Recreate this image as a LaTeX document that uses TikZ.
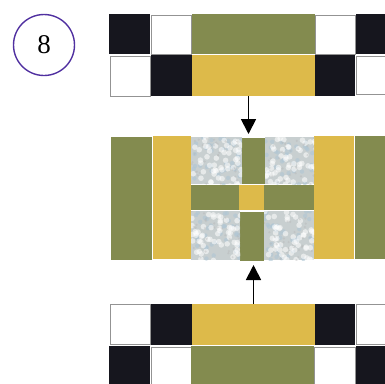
\documentclass[tikz,border=0pt]{standalone}
\usepackage{fontspec}
\setmainfont{Liberation Serif}
\usetikzlibrary{arrows.meta,fit}
\definecolor{leaf}{HTML}{838B4F}
\definecolor{mustard}{HTML}{DDBA4A}
\definecolor{ink}{HTML}{16161E}
\definecolor{ring}{HTML}{5030A0}
\definecolor{frost}{HTML}{C8CFD0}
\definecolor{frostblue}{HTML}{AFC6D4}
\tikzset{
  tile/.style={inner sep=0pt, outer sep=0pt},
  inkbox/.style={tile, fill=ink},
  paperbox/.style={tile, fill=white, draw=gray!85, line width=0.8pt},
  leafbox/.style={tile, fill=leaf},
  goldbox/.style={tile, fill=mustard},
  frostbox/.style={tile, fill=frost},
  flow/.style={-{Triangle[length=15pt,width=15pt]}, line width=1.8pt, shorten >=4pt}
}
\newcommand{\cell}[4]{\node[#1, fit={#3 #4}] (#2) {};}
\begin{document}
\begin{tikzpicture}[x=1pt,y=-1pt]
  \useasboundingbox (0,0) rectangle (385,383);
  \clip (0,0) rectangle (385,383);

  % Badge
  \node[draw=ring, circle, line width=1.4pt, minimum size=61pt,
        font=\fontsize{27}{27}\selectfont] (badge) at (44,45) {8};

  % Top strip
  \cell{inkbox}{ta}{(109,14)}{(150,54)}
  \cell{paperbox}{tb}{(151,15)}{(191,54)}
  \cell{leafbox}{tc}{(192,14)}{(315,54)}
  \cell{paperbox}{td}{(315,15)}{(355,54)}
  \cell{inkbox}{te}{(356,14)}{(390,54)}
  \cell{paperbox}{tf}{(110,56)}{(150,96)}
  \cell{inkbox}{tg}{(151,55)}{(192,96)}
  \cell{goldbox}{topgold}{(192,55)}{(315,96)}
  \cell{inkbox}{th}{(315,55)}{(355,96)}
  \cell{paperbox}{ti}{(356,56)}{(390,94)}

  % Middle block
  \cell{leafbox}{ma}{(111,137)}{(152,260)}
  \cell{goldbox}{mb}{(153,136)}{(191,259)}
  \cell{frostbox}{fa}{(191,137)}{(242,184)}
  \cell{leafbox}{vtop}{(242,138)}{(265,184)}
  \cell{frostbox}{fb}{(265,137)}{(314,184)}
  \cell{leafbox}{hleft}{(191,185)}{(239,210)}
  \cell{goldbox}{core}{(239,185)}{(264,210)}
  \cell{leafbox}{hright}{(264,185)}{(314,210)}
  \cell{frostbox}{fc}{(191,211)}{(240,260)}
  \cell{leafbox}{vbot}{(240,212)}{(264,261)}
  \cell{frostbox}{fd}{(264,211)}{(314,260)}
  \cell{goldbox}{mc}{(314,136)}{(354,259)}
  \cell{leafbox}{md}{(355,136)}{(390,259)}

  % Speckled print
  \pgfmathsetseed{8}
  \foreach \s in {fa,fb,fc,fd}{
    \begin{scope}
      \clip (\s.south west) rectangle (\s.north east);
      \foreach \k in {1,...,40}
        \fill[frostblue, opacity=.6] (\s.north west) ++(rnd*52,rnd*50) circle (2.2pt);
      \foreach \k in {1,...,55}
        \fill[white, opacity=.55] (\s.north west) ++(rnd*52,rnd*50) circle (2.8pt);
      \foreach \k in {1,...,30}
        \fill[gray!60, opacity=.35] (\s.north west) ++(rnd*52,rnd*50) circle (1.2pt);
    \end{scope}
  }

  % Bottom strip
  \cell{paperbox}{ba}{(110,304)}{(150,344)}
  \cell{inkbox}{bb}{(151,304)}{(192,345)}
  \cell{goldbox}{lowgold}{(192,304)}{(315,345)}
  \cell{inkbox}{bc}{(315,304)}{(355,345)}
  \cell{paperbox}{bd}{(356,304)}{(390,344)}
  \cell{inkbox}{be}{(109,346)}{(150,390)}
  \cell{paperbox}{bf}{(151,347)}{(191,390)}
  \cell{leafbox}{bg}{(191,346)}{(314,390)}
  \cell{paperbox}{bh}{(314,347)}{(355,390)}
  \cell{inkbox}{bi}{(356,346)}{(390,390)}

  % Arrows
  \draw[flow] ([xshift=-5pt]topgold.south) -- ([xshift=-5pt]vtop.north);
  \draw[flow] (lowgold.north) -- (lowgold.north |- vbot.south);
\end{tikzpicture}
\end{document}
